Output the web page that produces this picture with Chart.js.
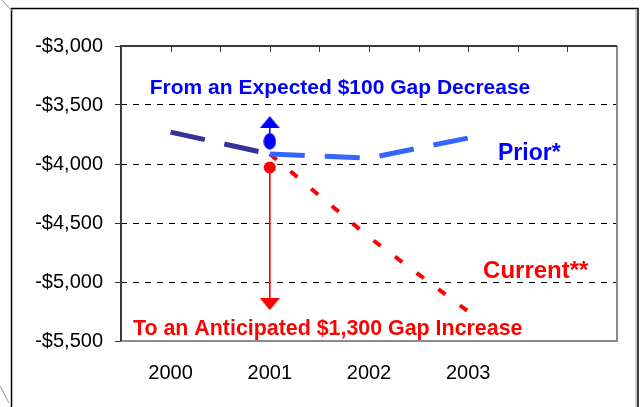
<!DOCTYPE html>
<html>
<head>
<meta charset="utf-8">
<script src="https://cdn.jsdelivr.net/npm/chart.js@4/dist/chart.umd.min.js"></script>
<style>
  html, body { margin: 0; padding: 0; background: #ffffff; }
  canvas { display: block; }
</style>
</head>
<body>
<canvas id="gapChart" width="642" height="407"></canvas>
<script>
// Chart data
const years = [2000, 2001, 2002, 2003];
const priorGap = [-3730, -3915, -3950, -3780];
const currentGap = [null, -3915, -4620, -5250];
const yTicks = [-5500, -5000, -4500, -4000, -3500, -3000];

// markers at 2001: [start, arrow head]
const markerYear = 2001;
const expectedMarker = [-3808, -3645];
const anticipatedMarker = [-4029, -5188];

const noteExpected = 'From an Expected $100 Gap Decrease';
const noteAnticipated = 'To an Anticipated $1,300 Gap Increase';
const labelPrior = 'Prior*';
const labelCurrent = 'Current**';

const FONT = "'Liberation Sans', Arial, sans-serif";
const NAVY = '#333399';
const LIGHT_BLUE = '#3366ff';
const BLUE = '#0000ff';
const RED = '#ff0000';

// small canvases used as point styles
function makeTriangle(color, up) {
    const c = document.createElement('canvas');
    c.width = 20; c.height = 12;
    const g = c.getContext('2d');
    g.fillStyle = color;
    g.beginPath();
    if (up) { g.moveTo(10, 0); g.lineTo(20, 12); g.lineTo(0, 12); }
    else { g.moveTo(0, 0); g.lineTo(20, 0); g.lineTo(10, 12); }
    g.closePath();
    g.fill();
    return c;
}
function makeEllipse(color) {
    const c = document.createElement('canvas');
    c.width = 13; c.height = 17;
    const g = c.getContext('2d');
    g.fillStyle = color;
    g.beginPath();
    g.ellipse(6.5, 8.5, 6.2, 8.2, 0, 0, Math.PI * 2);
    g.fill();
    return c;
}

const toPoints = (vals) => years.map((y, i) => ({ x: y, y: vals[i] }));

// frame, plot box, inside ticks and text notes
const decorPlugin = {
    id: 'decor',
    afterDraw(chart) {
        const ctx = chart.ctx;
        const a = chart.chartArea;
        const xs = chart.scales.x;
        const ys = chart.scales.y;
        ctx.save();

        // outer frame
        ctx.strokeStyle = '#000';
        ctx.lineWidth = 1.5;
        ctx.beginPath();
        ctx.moveTo(11.5, 407); ctx.lineTo(11.5, 8.5); ctx.lineTo(638, 8.5); ctx.lineTo(638, 407);
        ctx.stroke();
        ctx.strokeStyle = '#9a9a9a';
        ctx.lineWidth = 1;
        ctx.beginPath();
        ctx.moveTo(636, 10); ctx.lineTo(636, 407);
        ctx.moveTo(2, 0); ctx.lineTo(13, 12);
        ctx.moveTo(0, 386); ctx.lineTo(9, 403);
        ctx.stroke();

        // plot box
        ctx.lineWidth = 2;
        ctx.strokeStyle = '#8c8c8c';
        ctx.beginPath();
        ctx.moveTo(a.left, a.bottom); ctx.lineTo(a.right, a.bottom); ctx.lineTo(a.right, a.top);
        ctx.stroke();
        ctx.strokeStyle = '#3a3a3a';
        ctx.beginPath();
        ctx.moveTo(a.right, a.top); ctx.lineTo(a.left, a.top); ctx.lineTo(a.left, a.bottom);
        ctx.stroke();

        // inside tick marks along the top
        ctx.lineWidth = 1;
        ctx.beginPath();
        for (let v = xs.min + 0.5; v < xs.max; v += 0.5) {
            const px = Math.round(xs.getPixelForValue(v)) + 0.5;
            ctx.moveTo(px, a.top); ctx.lineTo(px, a.top + 6);
        }
        ctx.stroke();

        // notes
        ctx.textBaseline = 'alphabetic';
        ctx.textAlign = 'left';
        ctx.font = 'bold 21px ' + FONT;
        ctx.fillStyle = BLUE;
        ctx.fillText(noteExpected, xs.getPixelForValue(1999.79), ys.getPixelForValue(-3405));
        ctx.font = 'bold 21.4px ' + FONT;
        ctx.fillStyle = RED;
        ctx.fillText(noteAnticipated, xs.getPixelForValue(1999.62), ys.getPixelForValue(-5446));
        ctx.font = 'bold 23px ' + FONT;
        ctx.fillStyle = BLUE;
        ctx.fillText(labelPrior, xs.getPixelForValue(2003.30), ys.getPixelForValue(-3963));
        ctx.font = 'bold 24px ' + FONT;
        ctx.fillStyle = RED;
        ctx.fillText(labelCurrent, xs.getPixelForValue(2003.15), ys.getPixelForValue(-4969));
        ctx.restore();
    }
};

const ctxGap = document.getElementById('gapChart').getContext('2d');
const gapChart = new Chart(ctxGap, {
    type: 'line',
    data: {
        datasets: [
            {
                label: 'Prior',
                data: toPoints(priorGap),
                borderWidth: 5,
                borderDash: [35, 20],
                borderColor: LIGHT_BLUE,
                segment: { borderColor: c => c.p0DataIndex === 0 ? NAVY : LIGHT_BLUE },
                pointRadius: 0,
                tension: 0,
                order: 1
            },
            {
                label: 'Current',
                data: toPoints(currentGap),
                borderWidth: 4,
                borderDash: [9, 18],
                borderColor: RED,
                pointRadius: 0,
                tension: 0,
                order: 2
            },
            {
                label: 'Expected',
                data: expectedMarker.map(v => ({ x: markerYear, y: v })),
                borderWidth: 1.5,
                borderColor: BLUE,
                backgroundColor: BLUE,
                pointStyle: [makeEllipse(BLUE), makeTriangle(BLUE, true)],
                pointRadius: 6,
                order: 0
            },
            {
                label: 'Anticipated',
                data: anticipatedMarker.map(v => ({ x: markerYear, y: v })),
                borderWidth: 1,
                borderColor: RED,
                backgroundColor: RED,
                pointBorderWidth: 0,
                pointStyle: ['circle', makeTriangle(RED, false)],
                pointRadius: 6,
                order: 0
            }
        ]
    },
    options: {
        responsive: false,
        animation: false,
        layout: { padding: { top: 46, right: 25, left: 0, bottom: 0 } },
        plugins: { legend: { display: false }, tooltip: { enabled: false } },
        scales: {
            x: {
                type: 'linear',
                min: 1999.5,
                max: 2004.5,
                afterBuildTicks: axis => { axis.ticks = years.map(v => ({ value: v })); },
                afterFit: axis => { axis.height = 66; },
                grid: { display: false },
                border: { display: false },
                ticks: {
                    color: '#000',
                    font: { family: FONT, size: 20 },
                    padding: 12,
                    maxRotation: 0,
                    callback: v => String(v)
                }
            },
            y: {
                min: -5500,
                max: -3000,
                afterBuildTicks: axis => { axis.ticks = yTicks.map(v => ({ value: v })); },
                afterFit: axis => { axis.width = 121; },
                grid: {
                    color: c => (c.tick.value === -3000 || c.tick.value === -5500) ? 'rgba(0,0,0,0)' : '#000',
                    lineWidth: 1,
                    tickLength: 6,
                    tickColor: '#333',
                    tickBorderDash: []
                },
                border: { display: false, dash: [6, 6] },
                ticks: {
                    color: '#000',
                    font: { family: FONT, size: 20 },
                    padding: 12,
                    callback: v => '-$' + Math.abs(v).toLocaleString('en-US')
                }
            }
        }
    },
    plugins: [decorPlugin]
});
</script>
</body>
</html>
